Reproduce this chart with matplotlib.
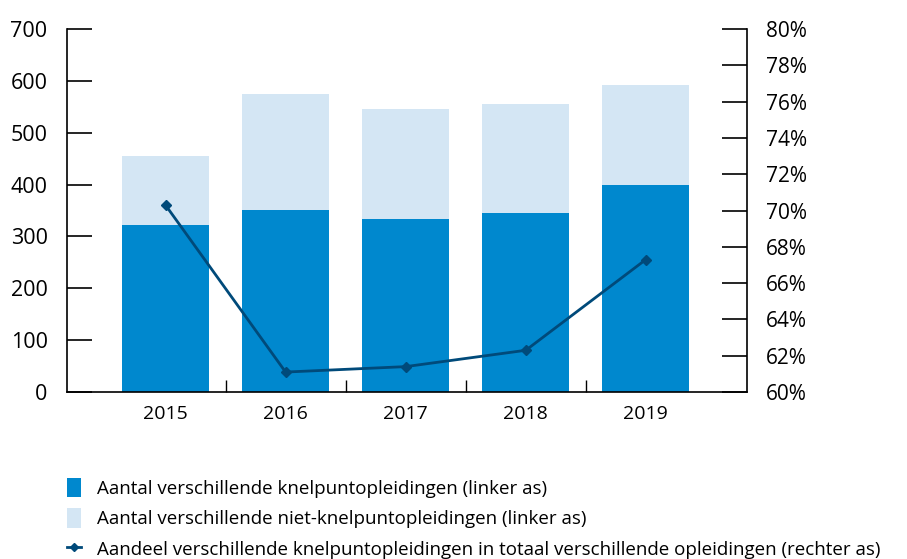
import matplotlib
matplotlib.use('Agg')
import matplotlib.pyplot as plt
from matplotlib.patches import Patch
from matplotlib.lines import Line2D

plt.rcParams['font.family'] = ['Open Sans', 'DejaVu Sans']

years = ['2015', '2016', '2017', '2018', '2019']
knelpunt = [322, 351, 333, 345, 399]
totaal = [455, 574, 545, 555, 592]
aandeel = [70.3, 61.1, 61.4, 62.3, 67.3]

niet_knelpunt = [t - k for t, k in zip(totaal, knelpunt)]

dark = '#0088CE'
light = '#D4E6F4'
line_col = '#004A7A'

fig = plt.figure(figsize=(9.07, 5.59), dpi=100)
ax = fig.add_axes([0.0739, 0.2987, 0.7494, 0.6494])

x = list(range(len(years)))
ax.bar(x, knelpunt, width=0.725, color=dark, zorder=2)
ax.bar(x, niet_knelpunt, width=0.725, bottom=knelpunt, color=light, zorder=2)

ax.set_xlim(-0.82, 4.84)
ax.set_ylim(0, 700)
ax.set_yticks(range(0, 701, 100))
ax.set_xticks(x)
ax.set_xticklabels(years)
ax.set_xticks([0.5, 1.5, 2.5, 3.5], minor=True)
ax.tick_params(axis='x', which='major', length=0, pad=9, labelsize=14)
ax.tick_params(axis='x', which='minor', direction='in', length=9, width=1)
ax.tick_params(axis='y', direction='in', length=18, width=1.2, pad=14, labelsize=15.5)
ax.spines['top'].set_visible(False)
ax.spines['right'].set_visible(False)
for s in ['left', 'bottom']:
    ax.spines[s].set_linewidth(1.2)

ax2 = ax.twinx()
ax2.plot(x, aandeel, color=line_col, lw=2, marker='D', ms=5, zorder=3)
ax2.set_ylim(60, 80)
ax2.set_yticks(range(60, 81, 2))
ax2.set_yticklabels([f'{v}%' for v in range(60, 81, 2)])
ax2.tick_params(axis='y', direction='in', length=18, width=1.2, pad=14, labelsize=15)
ax2.spines['top'].set_visible(False)
ax2.spines['left'].set_visible(False)
ax2.spines['bottom'].set_visible(False)
ax2.spines['right'].set_linewidth(1.2)

handles = [
    Patch(facecolor=dark, edgecolor='none'),
    Patch(facecolor=light, edgecolor='none'),
    Line2D([0], [0], color=line_col, lw=2, marker='D', ms=4),
]
labels = [
    'Aantal verschillende knelpuntopleidingen (linker as)',
    'Aantal verschillende niet-knelpuntopleidingen (linker as)',
    'Aandeel verschillende knelpuntopleidingen in totaal verschillende opleidingen (rechter as)',
]
fig.legend(handles, labels, loc='upper left', bbox_to_anchor=(0.066, 0.158),
           frameon=False, fontsize=13.5, handlelength=0.75, handleheight=1.2,
           handletextpad=0.85, labelspacing=0.55, borderaxespad=0)

fig.savefig('out.png', dpi=100)
